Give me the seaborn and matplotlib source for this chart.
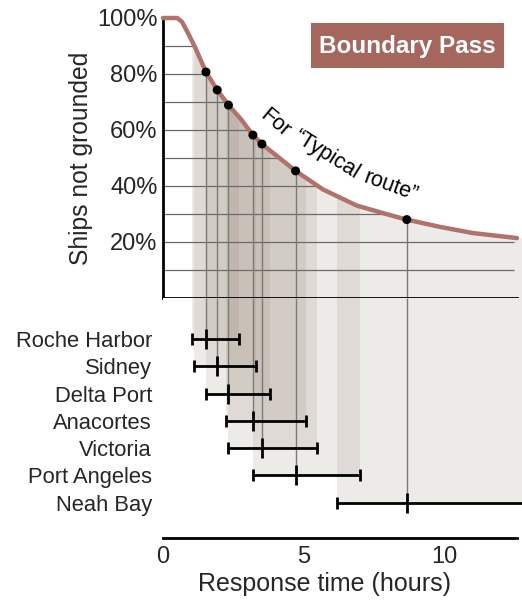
import numpy as np
import matplotlib
matplotlib.use("Agg")
import matplotlib.pyplot as plt
from matplotlib.patches import Polygon, Rectangle
import seaborn as sns

# Survival curve for the typical route (hours after incident, % ships not grounded)
curve_hours = [0, 0.5, 0.68, 0.89, 1.14, 1.53, 1.93, 2.33, 2.78, 3.2, 3.52,
               4.72, 5.69, 6.19, 6.9, 8.08, 8.68, 9.86, 11.03, 12.6]
curve_pct = [100, 100, 98.6, 94.6, 89.6, 80.7, 74.3, 68.9, 63.8, 58.2, 55.0,
             45.4, 38.8, 36.4, 33.0, 29.6, 28.0, 25.4, 23.2, 21.4]

# Tug response times from each port (hours)
ports = ["Roche Harbor", "Sidney", "Delta Port", "Anacortes", "Victoria",
         "Port Angeles", "Neah Bay"]
resp_min = [1.02, 1.12, 1.53, 2.23, 2.33, 3.2, 6.2]
resp_med = [1.53, 1.93, 2.33, 3.2, 3.52, 4.72, 8.68]
resp_max = [2.72, 3.32, 3.8, 5.1, 5.5, 7.0, 13.5]
# Share of ships not grounded at each port's median response time
dot_pct = [80.7, 74.3, 68.9, 58.2, 55.0, 45.4, 28.0]

pct_ticks = [20, 40, 60, 80, 100]
grid_pct = [10, 20, 30, 40, 50, 60, 70, 80, 90]

sns.set_style("white")
plt.rcParams["font.family"] = ["Liberation Sans", "DejaVu Sans"]

W, H = 522, 603
fig = plt.figure(figsize=(W / 100, H / 100), dpi=100)

XMAX = 12.78
curve_color = "#b0726a"
band_color = "#9a8a78"
band_alpha = 0.17

ax1 = fig.add_axes([163 / W, 1 - 298 / H, (W - 163) / W, 280 / H])
ax2 = fig.add_axes([163 / W, 1 - 538 / H, (W - 163) / W, 240 / H])

# ---- upper panel: survival curve ----
ax1.set_xlim(0, XMAX)
ax1.set_ylim(0, 100)

verts = list(zip(curve_hours, curve_pct)) + [(XMAX, curve_pct[-1]), (XMAX, 0), (0, 0)]
under = Polygon(verts, closed=True, transform=ax1.transData,
                facecolor="none", edgecolor="none")
ax1.add_patch(under)

for lo, hi in zip(resp_min, resp_max):
    span = ax1.axvspan(lo, hi, color=band_color, alpha=band_alpha, lw=0, zorder=1)
    span.set_clip_path(under)

grid = ax1.hlines(grid_pct, 0, 12.5, color="#6a6a6a", lw=0.9, zorder=2)
grid.set_clip_path(under)

ax1.vlines(resp_med, 0, dot_pct, color="#7a7a7a", lw=1.0, zorder=2)

sns.lineplot(x=curve_hours, y=curve_pct, ax=ax1, color=curve_color, lw=3.2,
             zorder=4, clip_on=False, sort=False)
sns.scatterplot(x=resp_med, y=dot_pct, ax=ax1, color="black", s=42,
                edgecolor="none", zorder=5, clip_on=False)

for s in ["top", "right"]:
    ax1.spines[s].set_visible(False)
for s in ["left", "bottom"]:
    ax1.spines[s].set_linewidth(2.0)
    ax1.spines[s].set_color("black")
ax1.spines["bottom"].set_bounds(0, 12.6)

ax1.set_xticks([0, 5, 10])
ax1.set_xticks(np.arange(1, 13), minor=True)
ax1.tick_params(axis="x", which="both", direction="in", labelbottom=False,
                width=1.5, color="black")
ax1.tick_params(axis="x", which="major", length=7)
ax1.tick_params(axis="x", which="minor", length=3.5)
ax1.set_yticks(pct_ticks)
ax1.set_yticklabels([f"{p}%" for p in pct_ticks])
ax1.tick_params(axis="y", length=0, pad=4, labelsize=17)
ax1.set_ylabel("Ships not grounded", fontsize=17.7, labelpad=3)

# label following the curve
for word, xh, yp, rot in [("For", 3.99, 62.5, -40),
                          ("\u201cTypical", 5.80, 51.1, -32),
                          ("route\u201d", 8.1, 39.8, -20)]:
    ax1.text(xh, yp, word, fontsize=15.5, rotation=rot, ha="center", va="center",
             rotation_mode="anchor", color="black", zorder=6)

# ---- lower panel: response time ranges ----
rows = np.arange(len(ports))
TOP = -1.5
ax2.set_xlim(0, XMAX)
ax2.set_ylim(7.29, TOP)

for r, lo, hi in zip(rows, resp_min, resp_max):
    ax2.fill_between([lo, hi], [r, r], [TOP, TOP], color=band_color,
                     alpha=band_alpha, lw=0, zorder=1)
ax2.vlines(resp_med, TOP, rows, color="#7a7a7a", lw=1.0, zorder=2)

xerr = [np.subtract(resp_med, resp_min), np.subtract(resp_max, resp_med)]
ax2.errorbar(resp_med, rows, xerr=xerr, fmt="none", ecolor="black",
             elinewidth=2.0, capsize=4.3, capthick=2.0, zorder=4)
ax2.plot(resp_med, rows, ls="none", marker="|", ms=15, mew=2.0,
         color="black", zorder=5)

for s in ["top", "right", "left"]:
    ax2.spines[s].set_visible(False)
ax2.spines["bottom"].set_linewidth(2.0)
ax2.spines["bottom"].set_color("black")
ax2.spines["bottom"].set_bounds(0, 12.6)

ax2.set_yticks(rows)
ax2.set_yticklabels(ports)
ax2.tick_params(axis="y", length=0, pad=8, labelsize=15.8)
ax2.set_xticks([0, 5, 10])
ax2.set_xticks(np.arange(1, 13), minor=True)
ax2.tick_params(axis="x", which="both", direction="in", width=1.5,
                color="black", labelsize=17, pad=6)
ax2.tick_params(axis="x", which="major", length=7)
ax2.tick_params(axis="x", which="minor", length=3.5)
ax2.set_xlabel("Response time (hours)", fontsize=18)
ax2.xaxis.set_label_coords((325 - 163) / (W - 163), -0.14)

# ---- title box ----
fig.add_artist(Rectangle((311 / W, 1 - 68 / H), 193 / W, 45 / H,
                         transform=fig.transFigure, facecolor="#a5665d",
                         edgecolor="none"))
fig.text(407.5 / W, 1 - 46 / H, "Boundary Pass", ha="center", va="center",
         color="white", fontsize=17.5, fontweight="bold")

fig.savefig("out.png", dpi=100)
